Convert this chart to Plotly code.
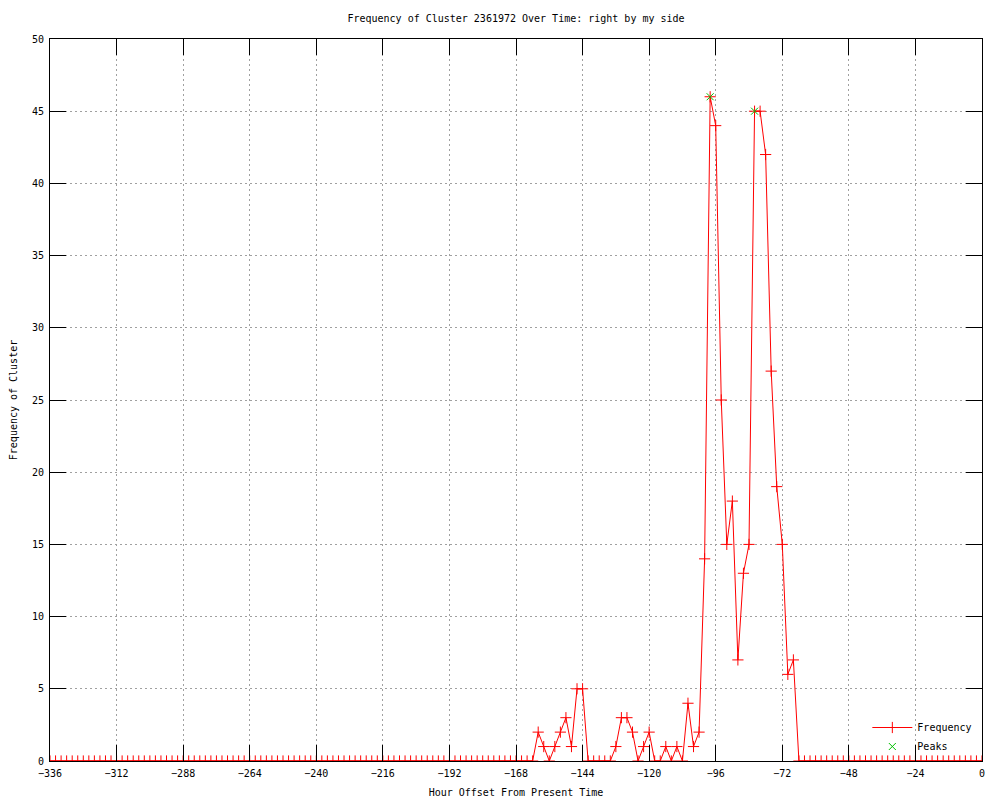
import plotly.graph_objects as go

# Hour offsets (every 2 hours from -336 to 0)
hours = list(range(-336, 1, 2))

# Frequency of cluster at each hour offset
frequency = [
    # -336 .. -162 (88 points)
    0, 0, 0, 0, 0, 0, 0, 0, 0, 0, 0, 0, 0, 0, 0, 0, 0, 0, 0, 0, 0, 0,
    0, 0, 0, 0, 0, 0, 0, 0, 0, 0, 0, 0, 0, 0, 0, 0, 0, 0, 0, 0, 0, 0,
    0, 0, 0, 0, 0, 0, 0, 0, 0, 0, 0, 0, 0, 0, 0, 0, 0, 0, 0, 0, 0, 0,
    0, 0, 0, 0, 0, 0, 0, 0, 0, 0, 0, 0, 0, 0, 0, 0, 0, 0, 0, 0, 0, 0,
    # -160 .. -68
    2, 1, 0, 1, 2, 3, 1, 5, 5, 0, 0, 0, 0, 0, 1, 3, 3, 2, 0, 1, 2, 0,
    0, 1, 0, 1, 0, 4, 1, 2, 14, 46, 44, 25, 15, 18, 7, 13, 15, 45, 45,
    42, 27, 19, 15, 6, 7,
    # -66 .. 0 (34 points)
    0, 0, 0, 0, 0, 0, 0, 0, 0, 0, 0, 0, 0, 0, 0, 0, 0, 0, 0, 0, 0, 0,
    0, 0, 0, 0, 0, 0, 0, 0, 0, 0, 0, 0,
]

peak_hours = [-98, -82]
peak_values = [46, 45]

x_ticks = [-336, -312, -288, -264, -240, -216, -192, -168, -144, -120, -96, -72, -48, -24, 0]
y_ticks = [0, 5, 10, 15, 20, 25, 30, 35, 40, 45, 50]

FONT = "DejaVu Sans Mono"

fig = go.Figure()
fig.add_trace(go.Scatter(
    x=hours, y=frequency, mode="lines+markers", name="Frequency",
    line=dict(color="#ff0000", width=1),
    marker=dict(symbol="cross-thin", size=8, color="#ff0000",
                line=dict(color="#ff0000", width=1)),
))
fig.add_trace(go.Scatter(
    x=peak_hours, y=peak_values, mode="markers", name="Peaks",
    marker=dict(symbol="x-thin", size=7, color="#00c000",
                line=dict(color="#00c000", width=1)),
))

axis_common = dict(
    showline=True, linecolor="black", linewidth=1, mirror="ticks",
    ticks="inside", ticklen=16, tickcolor="black", tickwidth=1,
    showgrid=True, gridcolor="#a0a0a0", griddash="2px,3px", gridwidth=1,
    zeroline=False, automargin=False,
    tickfont=dict(family=FONT, size=10, color="black"),
)

fig.update_layout(
    width=1000, height=800,
    margin=dict(l=42, r=26, t=31, b=47),
    paper_bgcolor="white", plot_bgcolor="white",
    font=dict(family=FONT, size=10, color="black"),
    title=dict(text="Frequency of Cluster 2361972 Over Time: right by my side",
               x=0.5, xref="paper", xanchor="center", y=0.9875, yanchor="middle",
               font=dict(family=FONT, size=10)),
    xaxis=dict(range=[-336, 0], tickvals=x_ticks, ticklabelstandoff=3,
               title=dict(text="Hour Offset From Present Time", standoff=10,
                          font=dict(family=FONT, size=10)),
               **axis_common),
    yaxis=dict(range=[0, 50], tickvals=y_ticks, ticklabelstandoff=3,
               title=dict(text="Frequency of Cluster", standoff=12,
                          font=dict(family=FONT, size=10)),
               **axis_common),
    legend=dict(x=0.995, y=0.0, xanchor="right", yanchor="bottom",
                bgcolor="rgba(0,0,0,0)", borderwidth=0,
                font=dict(family=FONT, size=10), tracegroupgap=0,
                itemwidth=40),
    showlegend=True,
)

fig.write_html("out.html")
